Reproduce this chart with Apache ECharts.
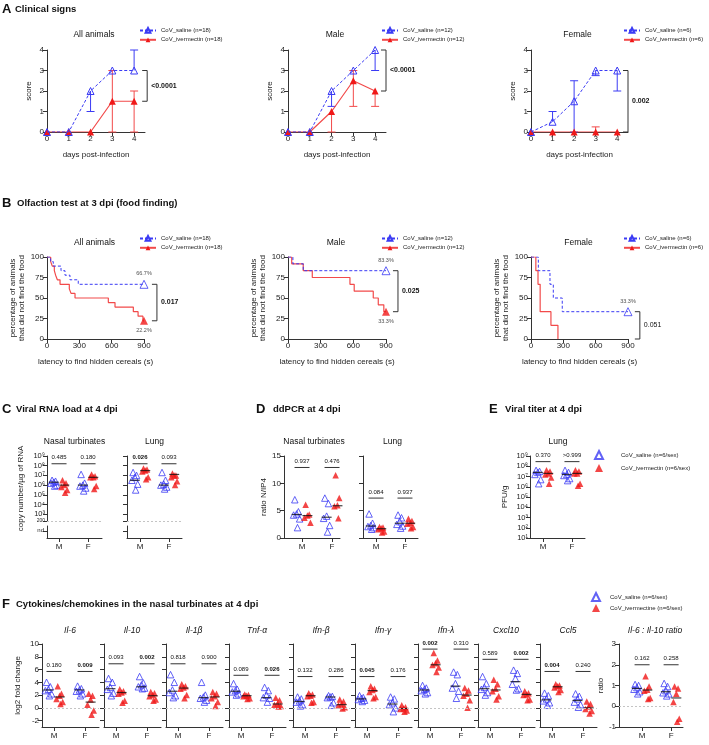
<!DOCTYPE html>
<html>
<head>
<meta charset="utf-8">
<title>Ivermectin / SARS-CoV-2 hamsters</title>
<script src="https://cdn.jsdelivr.net/npm/echarts@6/dist/echarts.min.js"></script>
<style>
  html, body { margin: 0; padding: 0; background: #fff; }
  #main { width: 709px; height: 745px; }
</style>
</head>
<body>
<div id="main"></div>
<script>
// ---------- A: clinical score, days post-infection ----------
var days = [0, 1, 2, 3, 4];
var scoreAllSal = [0, 0, 2, 3, 3];
var scoreAllIvm = [0, 0, 0, 1.5, 1.5];
var errAllSalLo = [null, null, 1, null, null];
var errAllSalHi = [null, null, null, null, 4];
var errAllIvmLo = [null, null, null, 0, 0];
var errAllIvmHi = [null, null, null, 3, 2];

var scoreMaleSal = [0, 0, 2, 3, 4];
var scoreMaleIvm = [0, 0, 1, 2.5, 2];
var errMaleSalLo = [null, null, 1.25, null, 3];
var errMaleSalHi = [null, null, null, null, null];
var errMaleIvmLo = [null, null, 0, 1.25, 1.25];
var errMaleIvmHi = [null, null, null, 3, null];

var scoreFemSal = [0, 0.5, 1.5, 3, 3];
var scoreFemIvm = [0, 0, 0, 0, 0];
var errFemSalLo = [null, null, 0, 2.75, 2];
var errFemSalHi = [null, 1, 2.5, null, null];
var errFemIvmLo = [null, null, null, null, null];
var errFemIvmHi = [null, null, null, 0.25, null];

// ---------- B: Kaplan-Meier, time (s) / % not found ----------
var kmAllSalT = [0, 34, 58, 130, 167, 213, 290, 900];
var kmAllSalS = [100, 94.4, 88.9, 83.3, 77.8, 72.2, 66.7, 66.7];
var kmAllIvmT = [0, 34, 49, 68, 80, 96, 121, 207, 223, 260, 569, 631, 801, 845, 890, 900];
var kmAllIvmS = [100, 94.4, 88.9, 83.3, 77.8, 72.2, 66.7, 61.1, 55.6, 50, 44.4, 38.9, 33.3, 27.8, 22.2, 22.2];
var kmMaleSalT = [0, 45, 140, 900];
var kmMaleSalS = [100, 91.7, 83.3, 83.3];
var kmMaleIvmT = [0, 34, 140, 223, 569, 608, 783, 829, 880, 900];
var kmMaleIvmS = [100, 91.7, 83.3, 75, 66.7, 58.3, 50, 41.7, 33.3, 33.3];
var kmFemSalT = [0, 68, 176, 207, 290, 900];
var kmFemSalS = [100, 83.3, 66.7, 50, 33.3, 33.3];
var kmFemIvmT = [0, 45, 65, 85, 185, 250];
var kmFemIvmS = [100, 83.3, 66.7, 33.3, 16.7, 0];

// ---------- C/D/E/F: dot plots, order [saline M, ivermectin M, saline F, ivermectin F] ----------
var sexes = ['M', 'F'];
// C: log10 copies / µg RNA
var rnaNasal = [[6.5, 6.4, 6.3, 6.2, 6.0, 5.9], [6.5, 6.2, 6.0, 5.8, 5.5, 5.2], [7.1, 6.2, 6.0, 5.9, 5.7, 5.4], [7.1, 6.9, 6.8, 6.8, 5.9, 5.6]];
var rnaNasalMid = [6.3, 6.0, 6.0, 6.8];
var rnaNasalP = ['0.485', '0.180'];
var rnaLung = [[7.3, 7.0, 6.8, 6.5, 6.1, 5.5], [7.7, 7.6, 7.5, 7.4, 6.8, 6.6], [7.3, 6.5, 6.1, 6.0, 5.8, 5.6], [7.2, 7.0, 7.0, 6.8, 6.4, 6.0]];
var rnaLungMid = [6.5, 7.5, 6.0, 7.1];
var rnaLungP = ['0.026', '0.093'];
// D: ratio N/IP4
var ddNasal = [[7.0, 4.8, 4.4, 4.2, 3.5, 1.9], [6.1, 4.3, 4.1, 3.7, 2.8], [7.3, 6.3, 4.0, 3.6, 2.3, 1.1], [11.5, 7.3, 6.0, 5.8, 4.4, 3.6]];
var ddNasalMid = [4.3, 4.1, 3.8, 5.9];
var ddNasalP = ['0.937', '0.476'];
var ddLung = [[4.4, 2.7, 2.3, 2.1, 1.9, 1.6], [2.0, 1.9, 1.8, 1.6, 1.2, 1.0], [4.2, 3.7, 3.0, 2.5, 2.2, 1.8], [3.5, 3.1, 2.8, 2.6, 2.0, 1.8]];
var ddLungMid = [2.2, 1.7, 2.7, 2.7];
var ddLungP = ['0.084', '0.937'];
// E: log10 PFU/g
var pfuLung = [[7.6, 7.5, 7.4, 7.2, 6.7, 6.3], [7.6, 7.5, 7.3, 7.2, 6.9, 6.3], [7.6, 7.4, 7.2, 7.1, 6.8, 6.6], [7.6, 7.5, 7.3, 7.3, 6.3, 6.1]];
var pfuLungMid = [7.4, 7.3, 7.2, 7.3];
var pfuLungP = ['0.370', '>0.999'];
// F: log2 fold change
var il6 = [[4.0, 3.3, 2.9, 2.7, 2.2, 1.9], [3.4, 2.2, 1.9, 1.4, 0.9, 0.6], [3.4, 3.0, 2.8, 2.6, 2.2, 1.9], [2.2, 1.9, 1.3, 0.5, -0.4, -1.1]];
var il6Mid = [2.8, 1.7, 2.8, 0.9];
var il6P = ['0.180', '0.009'];
var il10 = [[4.6, 4.0, 3.2, 2.9, 2.3, 1.9], [2.9, 2.6, 2.4, 2.2, 1.1, 0.8], [4.9, 3.9, 3.6, 3.3, 3.1, 3.0], [2.5, 2.3, 2.0, 1.8, 1.3, 1.1]];
var il10Mid = [3.0, 2.4, 3.3, 1.9];
var il10P = ['0.093', '0.002'];
var il1b = [[5.2, 4.0, 2.8, 2.4, 1.9, 1.6], [3.7, 3.4, 3.2, 3.0, 2.0, 1.5], [4.0, 2.0, 1.7, 1.5, 1.2, 0.9], [2.5, 2.2, 1.8, 1.5, 0.9, 0.3]];
var il1bMid = [2.6, 3.1, 1.6, 1.7];
var il1bP = ['0.818', '0.900'];
var tnf = [[3.8, 2.9, 2.7, 2.5, 2.2, 2.0], [2.1, 2.0, 1.9, 1.8, 1.5, 1.4], [3.2, 2.7, 2.0, 1.6, 1.5, 0.9], [1.6, 1.2, 0.7, 0.5, 0.3, 0.2]];
var tnfMid = [2.6, 1.9, 1.6, 0.6];
var tnfP = ['0.089', '0.026'];
var ifnb = [[1.7, 1.4, 1.1, 0.9, 0.5, 0.3], [2.3, 2.1, 1.9, 1.8, 0.9, 0.8], [1.9, 1.8, 1.7, 1.6, 0.8, 0.4], [1.3, 1.0, 0.6, 0.4, 0.1, -0.1]];
var ifnbMid = [1.0, 1.9, 1.7, 0.5];
var ifnbP = ['0.132', '0.286'];
var ifng = [[1.9, 1.6, 1.5, 1.3, 1.2, 1.0], [3.4, 3.0, 2.8, 2.5, 1.7, 1.5], [1.7, 1.4, 0.8, 0.5, 0.0, -0.6], [0.4, 0.1, -0.1, -0.2, -0.4, -0.6]];
var ifngMid = [1.4, 2.7, 0.6, -0.1];
var ifngP = ['0.045', '0.176'];
var ifnl = [[3.5, 3.1, 2.9, 2.7, 2.4, 2.2], [8.6, 7.4, 7.0, 6.7, 6.3, 5.6], [5.6, 5.2, 3.8, 3.1, 2.6, 1.5], [3.1, 2.7, 2.2, 1.9, 1.2, 0.0]];
var ifnlMid = [2.8, 6.75, 3.4, 2.0];
var ifnlP = ['0.002', '0.310'];
var cxcl10 = [[4.9, 3.8, 3.2, 2.9, 2.4, 2.0], [4.4, 3.7, 3.0, 2.6, 1.8, 1.3], [5.9, 5.4, 4.6, 3.7, 3.0, 2.8], [2.6, 2.3, 2.1, 2.0, 1.3, 1.2]];
var cxcl10Mid = [3.0, 2.8, 4.1, 2.1];
var cxcl10P = ['0.589', '0.002'];
var ccl5 = [[2.3, 1.9, 1.4, 1.1, 0.8, 0.4], [3.7, 3.5, 3.4, 3.2, 2.8, 2.5], [2.2, 1.8, 1.4, 0.9, 0.5, 0.1], [1.0, 0.6, 0.2, -0.2, -0.5, -0.9]];
var ccl5Mid = [1.25, 3.3, 1.15, 0.0];
var ccl5P = ['0.004', '0.240'];
var ratio = [[1.05, 1.0, 0.9, 0.82, 0.7, 0.6], [1.45, 0.95, 0.8, 0.75, 0.4, 0.35], [1.1, 0.95, 0.75, 0.65, 0.6, 0.5], [0.95, 0.85, 0.6, 0.2, -0.6, -0.75]];
var ratioMid = [0.86, 0.78, 0.7, 0.4];
var ratioP = ['0.162', '0.258'];
var fTicks = [-2, 0, 2, 4, 6, 8, 10];

// ---------- layout / styles ----------
var FONT = 'Liberation Sans, Arial, sans-serif';
var BLUE = '#3b3bf4', RED = '#f01818', RED_LINE = '#f24a4a', INK = '#222';
var OPEN = 'rgba(255,255,255,0)';
var groupX = [1, 3];         // x position of M / F
var OFF = 0.36;              // saline left, ivermectin right of the group
var jit = [-0.12, 0.12, 0, -0.2, 0.2, 0.06];

var grids = [], xAxes = [], yAxes = [], series = [], legends = [], graphics = [];

function addGrid(box, xa, ya) {
  var i = grids.length;
  grids.push({left: box[0], top: box[1], width: box[2], height: box[3], containLabel: false, outerBoundsMode: 'none'});
  xa.gridIndex = i; ya.gridIndex = i;
  xAxes.push(xa); yAxes.push(ya);
  return i;
}

function axis(o) {
  var a = {
    type: 'value', splitLine: {show: false},
    axisLine: {show: true, onZero: false, lineStyle: {color: '#333', width: 1}},
    axisTick: {show: true, length: 4, lineStyle: {color: '#333', width: 1}},
    axisLabel: {show: true, fontSize: 8, color: INK, margin: 3, fontFamily: FONT},
    nameTextStyle: {fontSize: 8, color: INK, fontFamily: FONT}
  };
  for (var k in o) {
    if (a[k] && typeof a[k] === 'object' && !Array.isArray(a[k])) Object.assign(a[k], o[k]);
    else a[k] = o[k];
  }
  return a;
}

function pairs(xs, ys) { return xs.map(function (x, i) { return [x, ys[i]]; }); }
function isSig(p) { return p.charAt(0) === '<' || parseFloat(p) < 0.05; }

function text(x, y, s, size, opt) {
  opt = opt || {};
  graphics.push({type: 'text', x: x, y: y, silent: true, z: 10, style: {
    text: s, fontSize: size, fontFamily: FONT, fill: '#111',
    fontWeight: opt.bold ? 'bold' : 'normal', fontStyle: opt.italic ? 'italic' : 'normal',
    align: opt.align || 'left', verticalAlign: 'middle'}});
}

// textPad shifts the label right of a narrow (scatter) icon
function legendAt(left, top, names, w, h, gap, textPad) {
  legends.push({orient: 'vertical', left: left, top: top, padding: 0, itemGap: gap, itemWidth: w, itemHeight: h,
    selectedMode: false, data: names,
    textStyle: {fontSize: 6, color: INK, fontFamily: FONT, padding: [0, 0, 0, textPad || 0]}});
}

function errSeries(gi, xs, vals, lo, hi, color) {
  var data = [];
  xs.forEach(function (x, i) {
    var l = lo[i] == null ? vals[i] : lo[i];
    var h = hi[i] == null ? vals[i] : hi[i];
    if (l !== vals[i] || h !== vals[i]) data.push([x, vals[i], l, h]);
  });
  return {type: 'custom', xAxisIndex: gi, yAxisIndex: gi, silent: true, z: 2, data: data,
    renderItem: function (params, api) {
      var x = api.value(0), v = api.value(1), kids = [];
      var c = api.coord([x, v]);
      [api.value(2), api.value(3)].forEach(function (e) {
        if (e === v) return;
        var p = api.coord([x, e]);
        kids.push({type: 'line', shape: {x1: c[0], y1: c[1], x2: p[0], y2: p[1]}, style: {stroke: color, lineWidth: 1}});
        kids.push({type: 'line', shape: {x1: p[0] - 4, y1: p[1], x2: p[0] + 4, y2: p[1]}, style: {stroke: color, lineWidth: 1}});
      });
      return {type: 'group', children: kids};
    }};
}

function bracket(gi, bx, y1, y2, p) {
  return {type: 'custom', xAxisIndex: gi, yAxisIndex: gi, silent: true, z: 5, data: [[bx, y1, y2]],
    renderItem: function (params, api) {
      var a = api.coord([api.value(0), api.value(1)]), b = api.coord([api.value(0), api.value(2)]);
      return {type: 'group', children: [
        {type: 'polyline', shape: {points: [[a[0] - 5, a[1]], [a[0], a[1]], [b[0], b[1]], [b[0] - 5, b[1]]]},
          style: {stroke: '#333', fill: null, lineWidth: 1}},
        {type: 'text', x: a[0] + 4, y: (a[1] + b[1]) / 2, style: {text: p, fontSize: 7, fontFamily: FONT,
          fontWeight: isSig(p) ? 'bold' : 'normal', fill: '#111', align: 'left', verticalAlign: 'middle'}}
      ]};
    }};
}

function pLines(gi, y, ps, size) {
  return {type: 'custom', xAxisIndex: gi, yAxisIndex: gi, silent: true, z: 5,
    data: groupX.map(function (g) { return [g, y]; }),
    renderItem: function (params, api) {
      var c = api.coord([api.value(0), api.value(1)]);
      var p = ps[params.dataIndex];
      return {type: 'group', children: [
        {type: 'line', shape: {x1: c[0] - 7.5, y1: c[1], x2: c[0] + 7.5, y2: c[1]}, style: {stroke: '#333', lineWidth: 1}},
        {type: 'text', x: c[0], y: c[1] - 3, style: {text: p, fontSize: size || 6, fontFamily: FONT,
          fontWeight: isSig(p) ? 'bold' : 'normal', fill: '#111', align: 'center', verticalAlign: 'bottom'}}
      ]};
    }};
}

function dots(gi, name, arrs, off, open) {
  var data = [];
  arrs.forEach(function (arr, g) {
    arr.forEach(function (v, k) { data.push([groupX[g] + off + jit[k % jit.length], v]); });
  });
  return {type: 'scatter', name: name, xAxisIndex: gi, yAxisIndex: gi, data: data, symbol: 'triangle', symbolSize: 6.5, z: 3,
    itemStyle: open ? {color: OPEN, borderColor: BLUE, borderWidth: 1} : {color: RED}};
}

function mids(gi, m, refY) {
  var s = {type: 'scatter', xAxisIndex: gi, yAxisIndex: gi, silent: true, symbol: 'rect', symbolSize: [10, 1.2], z: 4,
    itemStyle: {color: '#111'},
    data: [[groupX[0] - OFF, m[0]], [groupX[0] + OFF, m[1]], [groupX[1] - OFF, m[2]], [groupX[1] + OFF, m[3]]]};
  if (refY != null) {
    s.markLine = {silent: true, symbol: 'none', label: {show: false}, animation: false,
      lineStyle: {color: '#c4c4c4', type: [2, 2], width: 1}, data: [{yAxis: refY}]};
  }
  return s;
}

function sexAxis(xr, extra) {
  return axis(Object.assign({min: xr[0], max: xr[1], axisTick: {customValues: groupX},
    axisLabel: {customValues: groupX, margin: 5, formatter: function (v) { return v < 2 ? sexes[0] : sexes[1]; }}}, extra || {}));
}

function dotPlot(box, xr, ya, pts, m, pY, ps, nSal, nIvm, refY, xExtra) {
  var gi = addGrid(box, sexAxis(xr, xExtra), axis(ya));
  series.push(dots(gi, nSal, [pts[0], pts[2]], -OFF, true));
  series.push(dots(gi, nIvm, [pts[1], pts[3]], OFF, false));
  series.push(mids(gi, m, refY));
  series.push(pLines(gi, pY, ps));
  return gi;
}

// ---------- A ----------
var clinical = [
  {title: 'All animals', box: [47, 50, 98, 82], n: 18, sal: scoreAllSal, ivm: scoreAllIvm, sLo: errAllSalLo, sHi: errAllSalHi, iLo: errAllIvmLo, iHi: errAllIvmHi, bx: 4.6, br: [3, 1.5], p: '<0.0001', leg: 139},
  {title: 'Male', box: [288, 50, 98, 82], n: 12, sal: scoreMaleSal, ivm: scoreMaleIvm, sLo: errMaleSalLo, sHi: errMaleSalHi, iLo: errMaleIvmLo, iHi: errMaleIvmHi, bx: 4.5, br: [4, 2], p: '<0.0001', leg: 381},
  {title: 'Female', box: [531, 50, 97, 82], n: 6, sal: scoreFemSal, ivm: scoreFemIvm, sLo: errFemSalLo, sHi: errFemSalHi, iLo: errFemIvmLo, iHi: errFemIvmHi, bx: 4.5, br: [3, 0], p: '0.002', leg: 623}
];
clinical.forEach(function (c) {
  var gi = addGrid(c.box,
    axis({min: 0, max: 4.5, name: 'days post-infection', nameLocation: 'middle', nameGap: 19,
      axisTick: {customValues: days}, axisLabel: {customValues: days}}),
    axis({min: 0, max: 4, interval: 1, name: 'score', nameLocation: 'middle', nameGap: 14}));
  var nSal = 'CoV_saline (n=' + c.n + ')', nIvm = 'CoV_ivermectin (n=' + c.n + ')';
  series.push(errSeries(gi, days, c.ivm, c.iLo, c.iHi, RED_LINE));
  series.push({type: 'line', name: nIvm, xAxisIndex: gi, yAxisIndex: gi, data: pairs(days, c.ivm), z: 3,
    symbol: 'triangle', symbolSize: 7, itemStyle: {color: RED}, lineStyle: {color: RED_LINE, width: 1.2}});
  series.push(errSeries(gi, days, c.sal, c.sLo, c.sHi, BLUE));
  series.push({type: 'line', name: nSal, xAxisIndex: gi, yAxisIndex: gi, data: pairs(days, c.sal), z: 4,
    symbol: 'triangle', symbolSize: 7, itemStyle: {color: OPEN, borderColor: BLUE, borderWidth: 1},
    lineStyle: {color: BLUE, width: 1, type: [3, 2]}});
  series.push(bracket(gi, c.bx, c.br[0], c.br[1], c.p));
  legendAt(c.leg, 27, [nSal, nIvm], 16, 6, 3);
  text(c.box[0] + c.box[2] / 2 - 2, 35, c.title, 8.5, {align: 'center'});
});

// ---------- B ----------
var olfaction = [
  {title: 'All animals', box: [47, 257, 97, 82], n: 18, sT: kmAllSalT, sS: kmAllSalS, iT: kmAllIvmT, iS: kmAllIvmS, bx: 1020, br: [66.7, 22.2], p: '0.017', leg: 139},
  {title: 'Male', box: [288, 257, 98, 82], n: 12, sT: kmMaleSalT, sS: kmMaleSalS, iT: kmMaleIvmT, iS: kmMaleIvmS, bx: 1010, br: [83.3, 33.3], p: '0.025', leg: 381},
  {title: 'Female', box: [531, 257, 97, 82], n: 6, sT: kmFemSalT, sS: kmFemSalS, iT: kmFemIvmT, iS: kmFemIvmS, bx: 1010, br: [33.3, 0], p: '0.051', leg: 623}
];
olfaction.forEach(function (c) {
  var gi = addGrid(c.box,
    axis({min: 0, max: 900, interval: 300, name: 'latency to find hidden cereals (s)', nameLocation: 'middle', nameGap: 19}),
    axis({min: 0, max: 100, interval: 25, name: 'percentage of animals\nthat did not find the food', nameLocation: 'middle', nameGap: 20,
      nameTextStyle: {lineHeight: 9}}));
  var nSal = 'CoV_saline (n=' + c.n + ')', nIvm = 'CoV_ivermectin (n=' + c.n + ')';
  series.push({type: 'line', name: nIvm, xAxisIndex: gi, yAxisIndex: gi, step: 'end', symbol: 'none', z: 3,
    data: pairs(c.iT, c.iS), lineStyle: {color: RED_LINE, width: 1.2}});
  series.push({type: 'line', name: nSal, xAxisIndex: gi, yAxisIndex: gi, step: 'end', symbol: 'none', z: 4,
    data: pairs(c.sT, c.sS), lineStyle: {color: BLUE, width: 1, type: [3, 2]}});
  var endS = c.sS[c.sS.length - 1], endI = c.iS[c.iS.length - 1], endIT = c.iT[c.iT.length - 1];
  series.push({type: 'scatter', xAxisIndex: gi, yAxisIndex: gi, symbol: 'triangle', symbolSize: 8, z: 6, silent: true,
    itemStyle: {color: OPEN, borderColor: BLUE, borderWidth: 1},
    label: {show: true, position: 'top', distance: 3, fontSize: 5.5, color: '#222', fontFamily: FONT, formatter: endS + '%'},
    data: [[900, endS]]});
  if (endIT === 900) {
    series.push({type: 'scatter', xAxisIndex: gi, yAxisIndex: gi, symbol: 'triangle', symbolSize: 8, z: 6, silent: true,
      itemStyle: {color: RED},
      label: {show: true, position: 'bottom', distance: 3, fontSize: 5.5, color: '#222', fontFamily: FONT, formatter: endI + '%'},
      data: [[900, endI]]});
  }
  series.push(bracket(gi, c.bx, c.br[0], c.br[1], c.p));
  legendAt(c.leg, 235, [nSal, nIvm], 16, 6, 3);
  text(c.box[0] + c.box[2] / 2 - 1, 243, c.title, 8.5, {align: 'center'});
});

// ---------- C: viral RNA (broken log axis: value range + "nd" strip) ----------
var N6S = 'CoV_saline (n=6/sex)', N6I = 'CoV_ivermectin (n=6/sex)', N6IF = 'CoV_ivermectine (n=6/sex)';
var SUP = '⁰¹²³⁴⁵⁶⁷⁸⁹';
function pow10(v) { return '10' + SUP.charAt(Math.round(v)); }
var rnaTicks = [2.3, 3, 4, 5, 6, 7, 8, 9];

[{box: [47, 456, 55], xr: [0.17, 3.96], pts: rnaNasal, m: rnaNasalMid, ps: rnaNasalP, lab: true, title: 'Nasal turbinates'},
 {box: [127, 456, 55], xr: [0.1, 3.9], pts: rnaLung, m: rnaLungMid, ps: rnaLungP, lab: false, title: 'Lung'}
].forEach(function (c) {
  dotPlot([c.box[0], 456, c.box[2], 65], c.xr,
    {min: 2.3, max: 9, name: c.lab ? 'copy number/µg of RNA' : '', nameLocation: 'middle', nameGap: 22,
      axisTick: {customValues: rnaTicks},
      axisLabel: {show: c.lab, customValues: rnaTicks, margin: 2, fontSize: 7.5,
        formatter: function (v) { return v < 2.5 ? '{s|200}' : pow10(v); }, rich: {s: {fontSize: 5, color: INK}}}},
    c.pts, c.m, 8.2, c.ps, N6S, N6I, 2.3, {show: false});
  addGrid([c.box[0], 526, c.box[2], 12], sexAxis(c.xr),
    axis({min: 0, max: 1, axisTick: {customValues: [0.6]},
      axisLabel: {show: c.lab, customValues: [0.6], fontSize: 6, formatter: function () { return 'nd'; }}}));
  text(c.box[0] + c.box[2] / 2, 442, c.title, 8.5, {align: 'center'});
});

// ---------- D: ddPCR ----------
[{box: [284, 456, 56, 82], xr: [-0.2, 3.53], pts: ddNasal, m: ddNasalMid, ps: ddNasalP, py: 12.9, lab: true, title: 'Nasal turbinates'},
 {box: [363, 456, 55, 82], xr: [0.1, 3.9], pts: ddLung, m: ddLungMid, ps: ddLungP, py: 7.3, lab: false, title: 'Lung'}
].forEach(function (c) {
  dotPlot(c.box, c.xr,
    {min: 0, max: 15, interval: 5, name: c.lab ? 'ratio N/IP4' : '', nameLocation: 'middle', nameGap: 15,
      axisLabel: {show: c.lab}},
    c.pts, c.m, c.py, c.ps, N6S, N6I, null);
  text(c.box[0] + c.box[2] / 2 + 2, 442, c.title, 8.5, {align: 'center'});
});

// ---------- E: viral titer ----------
dotPlot([530, 456, 55, 82], [0.1, 3.9],
  {min: 1, max: 9, interval: 1, name: 'PFU/g', nameLocation: 'middle', nameGap: 21,
    axisLabel: {margin: 2, fontSize: 7.5, formatter: function (v) { return pow10(v); }}},
  pfuLung, pfuLungMid, 8.45, pfuLungP, N6S, N6I, null);
text(558, 442, 'Lung', 8.5, {align: 'center'});
legendAt(594, 450, [N6S, N6I], 8, 8, 4, 13);

// ---------- F: cytokines ----------
var cyto = [
  {t: 'Il-6', l: 42, pts: il6, m: il6Mid, ps: il6P, py: 5.7},
  {t: 'Il-10', l: 104, pts: il10, m: il10Mid, ps: il10P, py: 6.9},
  {t: 'Il-1β', l: 166, pts: il1b, m: il1bMid, ps: il1bP, py: 6.9},
  {t: 'Tnf-α', l: 229, pts: tnf, m: tnfMid, ps: tnfP, py: 5.1},
  {t: 'Ifn-β', l: 293, pts: ifnb, m: ifnbMid, ps: ifnbP, py: 4.9},
  {t: 'Ifn-γ', l: 355, pts: ifng, m: ifngMid, ps: ifngP, py: 4.9},
  {t: 'Ifn-λ', l: 418, pts: ifnl, m: ifnlMid, ps: ifnlP, py: 9.2},
  {t: 'Cxcl10', l: 478, pts: cxcl10, m: cxcl10Mid, ps: cxcl10P, py: 7.6},
  {t: 'Ccl5', l: 540, pts: ccl5, m: ccl5Mid, ps: ccl5P, py: 5.7}
];
cyto.forEach(function (c, i) {
  dotPlot([c.l, 644, 57, 83], [0.226, 3.9],
    {min: -3, max: 10, name: i === 0 ? 'log2 fold change' : '', nameLocation: 'middle', nameGap: 20,
      axisTick: {customValues: fTicks}, axisLabel: {show: i === 0, customValues: fTicks}},
    c.pts, c.m, c.py, c.ps, N6S, N6IF, 0);
  text(c.l + 28, 631, c.t, 8.5, {align: 'center', italic: true});
});
dotPlot([619, 644, 64, 83], [-0.59, 3.82],
  {min: -1, max: 3, interval: 1, name: 'ratio', nameLocation: 'middle', nameGap: 8},
  ratio, ratioMid, 2.0, ratioP, N6S, N6IF, 0);
text(655, 631, 'Il-6 : Il-10 ratio', 8.5, {align: 'center', italic: true});
legendAt(591, 592, [N6S, N6IF], 8, 8, 2, 5);

// ---------- panel headings ----------
[['A', 'Clinical signs', 2, 15, 9], ['B', 'Olfaction test at 3 dpi (food finding)', 2, 17, 203],
 ['C', 'Viral RNA load at 4 dpi', 2, 16, 409], ['D', 'ddPCR at 4 dpi', 256, 273, 409],
 ['E', 'Viral titer at 4 dpi', 489, 505, 409], ['F', 'Cytokines/chemokines in the nasal turbinates at 4 dpi', 2, 16, 604]
].forEach(function (h) {
  text(h[2], h[4], h[0], 13, {bold: true});
  text(h[3], h[4], h[1], 9.5, {bold: true});
});

var chart = echarts.init(document.getElementById('main'));
chart.setOption({
  animation: false,
  textStyle: {fontFamily: FONT},
  grid: grids, xAxis: xAxes, yAxis: yAxes,
  legend: legends, series: series, graphic: graphics
});
</script>
</body>
</html>
